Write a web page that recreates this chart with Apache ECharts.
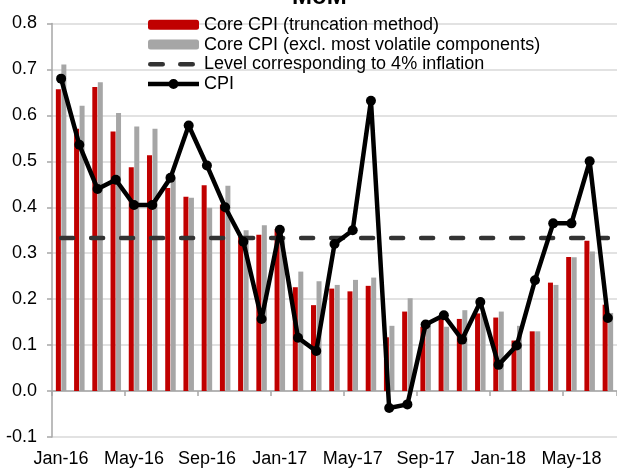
<!DOCTYPE html>
<html>
<head>
<meta charset="utf-8">
<script src="https://cdn.jsdelivr.net/npm/echarts@6/dist/echarts.min.js"></script>
<style>
html,body{margin:0;padding:0;background:#fff;}
#chart{width:617px;height:468px;}
</style>
</head>
<body>
<div id="chart"></div>
<script>
const categories = ["Jan-16","Feb-16","Mar-16","Apr-16","May-16","Jun-16","Jul-16","Aug-16","Sep-16","Oct-16","Nov-16","Dec-16",
  "Jan-17","Feb-17","Mar-17","Apr-17","May-17","Jun-17","Jul-17","Aug-17","Sep-17","Oct-17","Nov-17","Dec-17",
  "Jan-18","Feb-18","Mar-18","Apr-18","May-18","Jun-18","Jul-18"];
const coreTruncation = [0.657,0.571,0.662,0.565,0.487,0.513,0.442,0.423,0.448,0.406,0.336,0.340,
  0.352,0.226,0.187,0.223,0.217,0.229,0.117,0.173,0.140,0.157,0.157,0.169,
  0.160,0.110,0.130,0.236,0.292,0.327,0.188];
const coreExclVolatile = [0.711,0.621,0.672,0.605,0.576,0.571,0.465,0.421,0.399,0.447,0.350,0.361,
  0.335,0.260,0.239,0.231,0.242,0.247,0.142,0.202,0.142,0.140,0.176,0.170,
  0.173,0.142,0.130,0.231,0.291,0.304,0.170];
const level4pct = [0.333,0.333,0.333,0.333,0.333,0.333,0.333,0.333,0.333,0.333,0.333,0.333,
  0.333,0.333,0.333,0.333,0.333,0.333,0.333,0.333,0.333,0.333,0.333,0.333,
  0.333,0.333,0.333,0.333,0.333,0.333,0.333];
const cpi = [0.680,0.536,0.440,0.460,0.405,0.405,0.464,0.578,0.491,0.400,0.325,0.157,
  0.351,0.116,0.087,0.320,0.350,0.632,-0.037,-0.029,0.145,0.165,0.112,0.194,
  0.057,0.099,0.241,0.365,0.365,0.500,0.159];
const yTicks = {min: -0.1, max: 0.8, step: 0.1};

const FONT = "'Liberation Sans', Arial, sans-serif";
// legend icons (51 x 10 boxes)
const dashIcon = 'path://M0,0h0.01v0.01h-0.01z M51,10h-0.01v-0.01h0.01z ' +
  'M2.25,2.75h12.5a2.25,2.25 0 0,1 0,4.5h-12.5a2.25,2.25 0 0,1 0,-4.5z ' +
  'M32.25,2.75h12.5a2.25,2.25 0 0,1 0,4.5h-12.5a2.25,2.25 0 0,1 0,-4.5z';
const cpiIcon = 'path://M0,2.8h21v4.4h-21z M30,2.8h21v4.4h-21z M20.5,5a5,5 0 1,1 10,0a5,5 0 1,1 -10,0z';

const chart = echarts.init(document.getElementById('chart'), null, {renderer: 'canvas'});
chart.setOption({
  animation: false,
  backgroundColor: '#ffffff',
  title: {
    text: 'MoM', left: 287, top: -20,
    textStyle: {fontFamily: FONT, fontSize: 24, fontWeight: 'bold', color: '#000'}
  },
  legend: {
    orient: 'vertical', left: 148, top: 15, padding: 0,
    itemWidth: 51, itemHeight: 10, itemGap: 0, itemTextGap: 8,
    textStyle: {fontFamily: FONT, fontSize: 18, color: '#000', lineHeight: 19.7},
    data: [
      {name: 'Core CPI (truncation method)'},
      {name: 'Core CPI (excl. most volatile components)'},
      {name: 'Level corresponding to 4% inflation', icon: dashIcon},
      {name: 'CPI', icon: cpiIcon}
    ]
  },
  grid: {left: 52, right: -9.6, top: 23.5, bottom: 29.6, containLabel: false},
  xAxis: [{
    type: 'category', data: categories, boundaryGap: true,
    axisLine: {onZero: true, lineStyle: {color: '#a6a6a6', width: 1.5}},
    axisTick: {show: true, interval: 3, length: 5, lineStyle: {color: '#a6a6a6', width: 1.5}},
    axisLabel: {show: false}, splitLine: {show: false}
  }, {
    type: 'category', data: categories, boundaryGap: true, position: 'bottom',
    axisLine: {show: false, onZero: false}, axisTick: {show: false},
    axisLabel: {show: true, interval: 3, margin: 13, fontFamily: FONT, fontSize: 18, color: '#000'},
    splitLine: {show: false}
  }],
  yAxis: {
    type: 'value', min: yTicks.min, max: yTicks.max, interval: yTicks.step,
    axisLine: {show: true, lineStyle: {color: '#a6a6a6', width: 1.5}},
    axisTick: {show: true, length: 5, lineStyle: {color: '#a6a6a6', width: 1.5}},
    axisLabel: {margin: 15, fontFamily: FONT, fontSize: 18, color: '#000',
      formatter: v => v.toFixed(1)},
    splitLine: {show: true, lineStyle: {color: '#d9d9d9', width: 1.5}}
  },
  series: [{
    name: 'Core CPI (truncation method)', type: 'bar', xAxisIndex: 0,
    data: coreTruncation, barWidth: 5, barGap: '10%',
    itemStyle: {color: '#c00000'}, z: 2
  }, {
    name: 'Core CPI (excl. most volatile components)', type: 'bar', xAxisIndex: 0,
    data: coreExclVolatile, barWidth: 5, barGap: '10%',
    itemStyle: {color: '#a6a6a6'}, z: 2
  }, {
    name: 'Level corresponding to 4% inflation', type: 'line', xAxisIndex: 0,
    data: level4pct, symbol: 'none',
    lineStyle: {color: '#333333', width: 4.5, type: [12, 18], cap: 'round'},
    itemStyle: {color: '#333333'}, z: 3
  }, {
    name: 'CPI', type: 'line', xAxisIndex: 0,
    data: cpi, symbol: 'circle', symbolSize: 10,
    lineStyle: {color: '#000', width: 4.5},
    itemStyle: {color: '#000'}, z: 4
  }]
});
</script>
</body>
</html>
